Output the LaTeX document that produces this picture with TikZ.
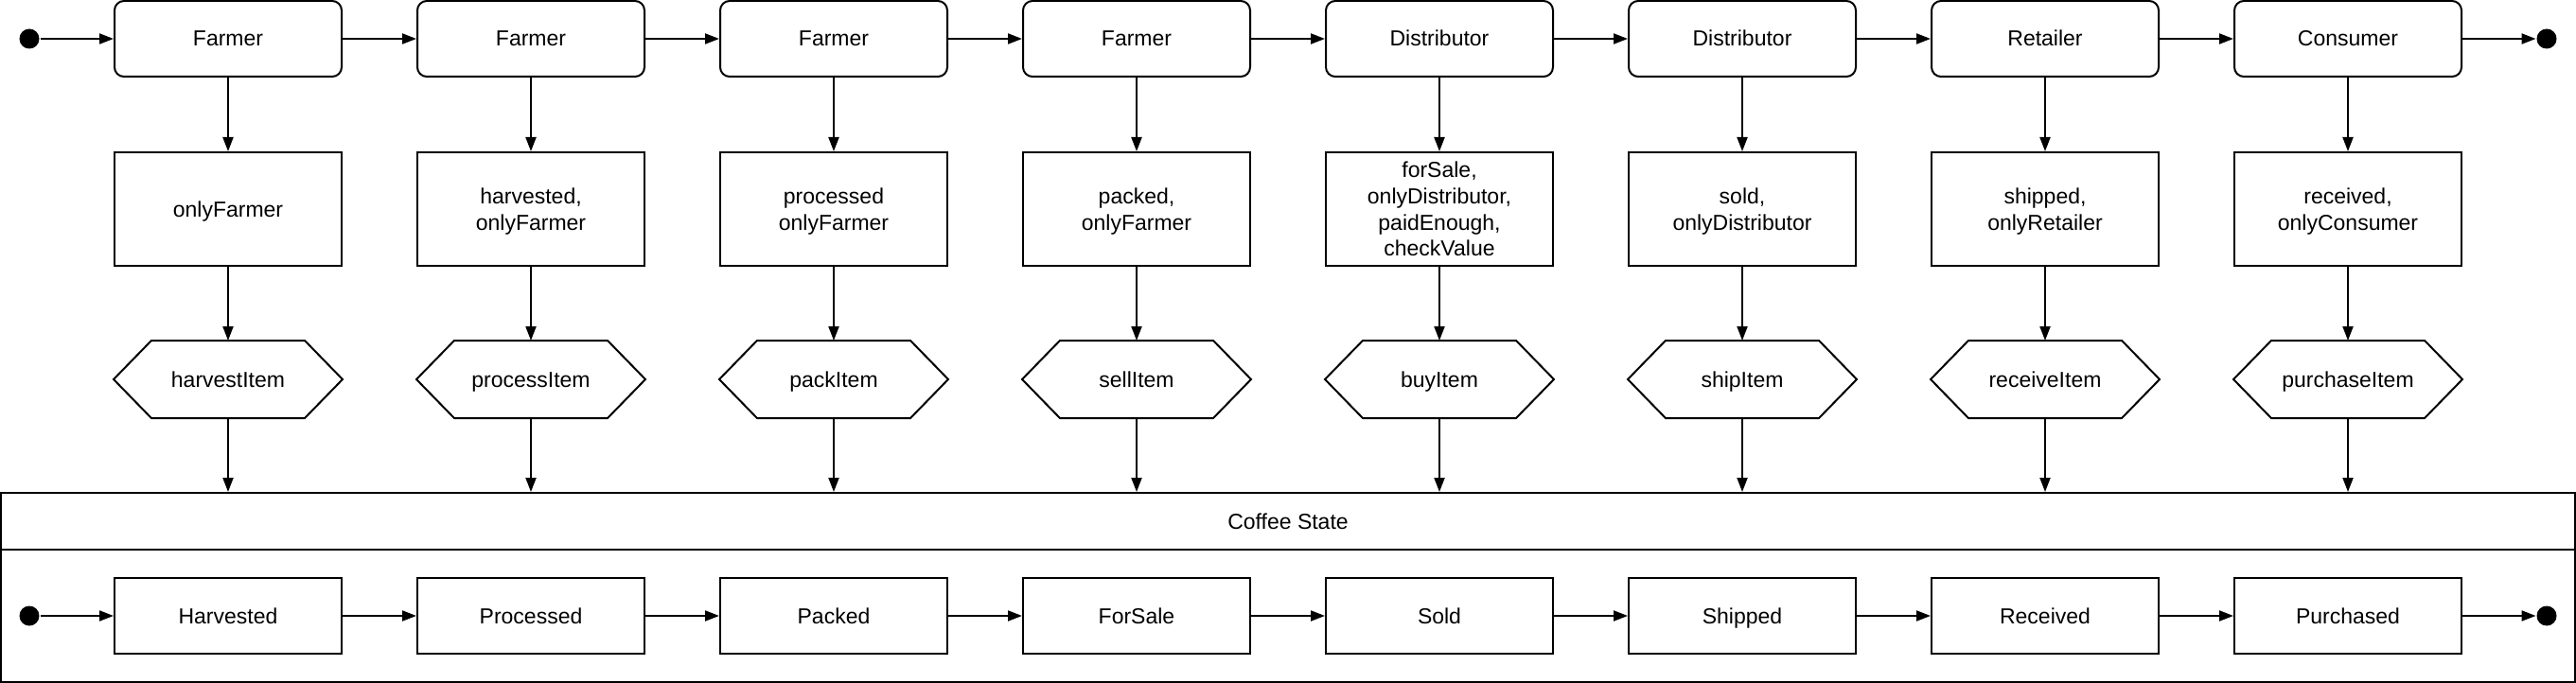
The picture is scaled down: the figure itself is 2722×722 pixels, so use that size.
\documentclass[tikz,border=0pt]{standalone}
\usepackage{fontspec}
\setmainfont{Liberation Sans}
\usetikzlibrary{arrows.meta}
\begin{document}
\begin{tikzpicture}[x=1pt,y=-1pt, line width=2pt,
  every node/.style={font=\fontsize{23}{27.6}\selectfont, align=center, inner sep=0pt, text depth=0pt},
  oneline/.style={text height=16pt},
  rolebox/.style={oneline, draw, rounded corners=10pt, minimum width=240pt, minimum height=80pt},
  guardbox/.style={draw, minimum width=240pt, minimum height=120pt},
  hexbox/.style={oneline, minimum width=240pt, minimum height=80pt},
  statebox/.style={oneline, draw, minimum width=240pt, minimum height=80pt},
  dot/.style={fill, circle, minimum size=21pt},
  arr/.style={-{Triangle[length=15pt,width=11pt]}}]
\useasboundingbox (0,0) rectangle (2722,722);

% Coffee State container
\node[draw, minimum width=2720pt, minimum height=200pt] (cs) at (1361,621) {};
\coordinate (sepL) at (1,581);
\coordinate (sepR) at (2721,581);
\draw (sepL) -- (sepR);
\node[oneline] (cstitle) at (1361,551) {Coffee State};

\foreach \i/\role/\guard/\act/\st in {
  1/Farmer/onlyFarmer/harvestItem/Harvested,
  2/Farmer/{harvested,\\onlyFarmer}/processItem/Processed,
  3/Farmer/{processed\\onlyFarmer}/packItem/Packed,
  4/Farmer/{packed,\\onlyFarmer}/sellItem/ForSale,
  5/Distributor/{forSale,\\onlyDistributor,\\paidEnough,\\checkValue}/buyItem/Sold,
  6/Distributor/{sold,\\onlyDistributor}/shipItem/Shipped,
  7/Retailer/{shipped,\\onlyRetailer}/receiveItem/Received,
  8/Consumer/{received,\\onlyConsumer}/purchaseItem/Purchased}
{
  \pgfmathsetmacro{\x}{241+320*(\i-1)}
  \node[rolebox] (t\i) at (\x,41) {\role};
  \node[guardbox] (g\i) at (\x,221) {\guard};
  \node[hexbox] (h\i) at (\x,401) {\act};
  \draw (h\i.west) -- ([xshift=40pt]h\i.north west) -- ([xshift=-40pt]h\i.north east)
        -- (h\i.east) -- ([xshift=-40pt]h\i.south east) -- ([xshift=40pt]h\i.south west) -- cycle;
  \node[statebox] (s\i) at (\x,651) {\st};
  \draw[arr] (t\i) -- (g\i);
  \draw[arr] (g\i) -- (h\i.north);
  \draw[arr] (h\i.south) -- (h\i.south |- cs.north);
}

\foreach \i [count=\j from 2] in {1,...,7} {
  \draw[arr] (t\i) -- (t\j);
  \draw[arr] (s\i) -- (s\j);
}

\node[dot] (topstart) at (31,41) {};
\node[dot] (topend) at (2691,41) {};
\node[dot] (botstart) at (31,651) {};
\node[dot] (botend) at (2691,651) {};
\draw[arr] (topstart) -- (t1);
\draw[arr] (t8) -- (topend);
\draw[arr] (botstart) -- (s1);
\draw[arr] (s8) -- (botend);
\end{tikzpicture}
\end{document}
